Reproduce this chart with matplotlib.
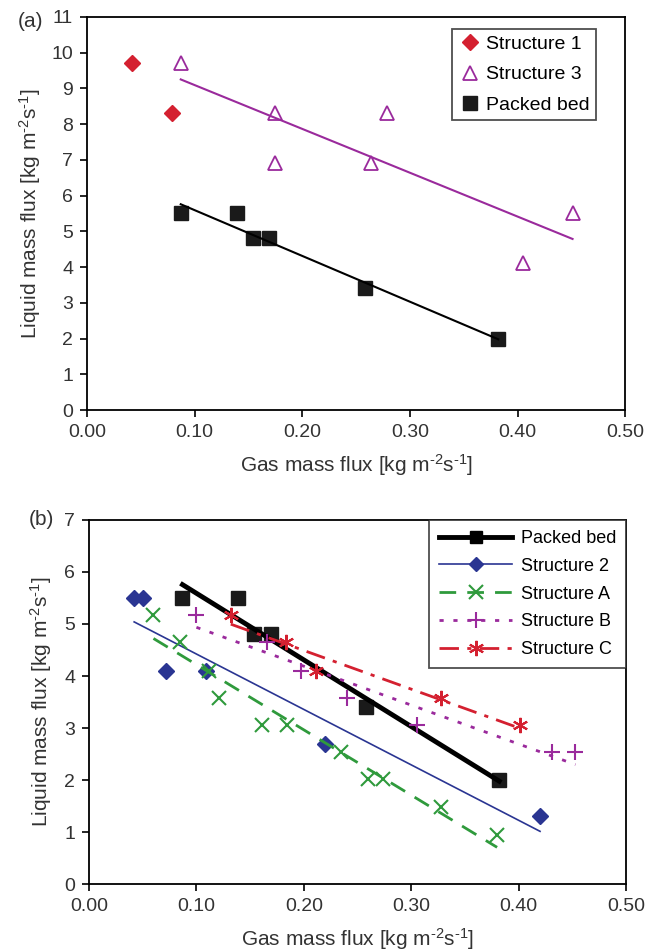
import numpy as np
import matplotlib.pyplot as plt

plt.rcParams['font.family'] = ['Liberation Sans', 'DejaVu Sans']
plt.rcParams['mathtext.fontset'] = 'custom'
plt.rcParams['mathtext.rm'] = 'Liberation Sans'
plt.rcParams['mathtext.default'] = 'regular'

# panel (a)
s1_x = [0.042, 0.079]
s1_y = [9.7, 8.3]
s3_x = [0.087, 0.175, 0.175, 0.264, 0.279, 0.405, 0.451]
s3_y = [9.7, 8.3, 6.9, 6.9, 8.3, 4.1, 5.5]
pb_x = [0.087, 0.139, 0.154, 0.169, 0.258, 0.382]
pb_y = [5.5, 5.5, 4.8, 4.8, 3.4, 2.0]

# panel (b)
s2_x = [0.042, 0.050, 0.072, 0.109, 0.220, 0.420]
s2_y = [5.5, 5.5, 4.1, 4.1, 2.7, 1.3]
sA_x = [0.060, 0.085, 0.112, 0.121, 0.161, 0.184, 0.235, 0.260, 0.274, 0.328, 0.380]
sA_y = [5.17, 4.66, 4.1, 3.58, 3.05, 3.05, 2.54, 2.01, 2.01, 1.49, 0.95]
sB_x = [0.100, 0.166, 0.197, 0.240, 0.305, 0.431, 0.453]
sB_y = [5.17, 4.66, 4.1, 3.58, 3.05, 2.54, 2.54]
sC_x = [0.132, 0.183, 0.211, 0.328, 0.401]
sC_y = [5.17, 4.66, 4.1, 3.58, 3.05]

xticks = [0.0, 0.1, 0.2, 0.3, 0.4, 0.5]
xlab = r'Gas mass flux [kg m$^{\text{-}2}$s$^{\text{-}1}$]'
ylab = r'Liquid mass flux [kg m$^{\text{-}2}$s$^{\text{-}1}$]'

RED = '#d42030'
PURPLE = '#9a2a9c'
BLUE = '#2a3592'
GREEN = '#2f9a3c'
TXT = '#333333'
AST = (6, 2, 0)  # six-arm asterisk


def fit(x, y):
    k, b = np.polyfit(x, y, 1)
    xx = np.array([min(x), max(x)])
    return xx, k * xx + b


def style(ax, ymax, ylpad):
    ax.set_xlim(0, 0.5)
    ax.set_ylim(0, ymax)
    ax.set_xticks(xticks)
    ax.set_xticklabels([f'{v:.2f}' for v in xticks])
    ax.set_yticks(range(0, ymax + 1))
    ax.tick_params(direction='out', length=5, width=1.2, labelsize=14, pad=5,
                   labelcolor=TXT)
    for sp in ax.spines.values():
        sp.set_linewidth(1.3)
    ax.set_xlabel(xlab, fontsize=15, color=TXT, labelpad=8)
    ax.set_ylabel(ylab, fontsize=15, color=TXT, labelpad=ylpad)


fig = plt.figure(figsize=(6.5, 9.52), dpi=100)

ax1 = fig.add_axes([0.134, 0.5693, 0.828, 0.413])
ax1.plot(s1_x, s1_y, 'D', color=RED, ms=8, ls='none', label='Structure 1')
ax1.plot(s3_x, s3_y, '^', mfc='white', mec=PURPLE, mew=1.3, ms=10, ls='none', label='Structure 3')
ax1.plot(pb_x, pb_y, 's', color='#1a1a1a', ms=9.5, ls='none', label='Packed bed')
xx, yy = fit(s3_x, s3_y)
ax1.plot(xx, yy, color=PURPLE, lw=1.5)
xx, yy = fit(pb_x, pb_y)
ax1.plot(xx, yy, color='black', lw=1.5)
style(ax1, 11, 6)
leg = ax1.legend(loc='upper right', bbox_to_anchor=(0.946, 0.97), fontsize=14,
                 frameon=True, fancybox=False, edgecolor='#222222', borderaxespad=0,
                 handletextpad=0.2, borderpad=0.35, labelspacing=0.65, handlelength=1.2)
leg.get_frame().set_linewidth(1.3)

ax2 = fig.add_axes([0.137, 0.0714, 0.826, 0.3824])
xx, yy = fit(pb_x, pb_y)
ax2.plot(pb_x, pb_y, 's', color='#1a1a1a', ms=9.5, ls='none')
ax2.plot(xx, yy, color='black', lw=3.5)
xx, yy = fit(s2_x, s2_y)
ax2.plot(s2_x, s2_y, 'D', color=BLUE, ms=8, ls='none')
ax2.plot(xx, yy, color=BLUE, lw=1.2)
xx, yy = fit(sA_x, sA_y)
ax2.plot(sA_x, sA_y, 'x', color=GREEN, ms=9.5, mew=1.5, ls='none')
ax2.plot(xx, yy, color=GREEN, lw=2, dashes=(6, 4))
xx, yy = fit(sB_x, sB_y)
ax2.plot(sB_x, sB_y, '+', color=PURPLE, ms=11, mew=1.5, ls='none')
ax2.plot(xx, yy, color=PURPLE, lw=2, dashes=(1.5, 3.5))
xx, yy = fit(sC_x, sC_y)
ax2.plot(sC_x, sC_y, marker=AST, color=RED, ms=11, mew=1.5, ls='none')
ax2.plot(xx, yy, color=RED, lw=2, dashes=(7, 3, 1.5, 3))

# legend proxies (marker + line)
h = [
    ax2.plot([], [], 's-', color='black', lw=3.5, ms=9)[0],
    ax2.plot([], [], 'D-', color=BLUE, lw=1.2, ms=7)[0],
    ax2.plot([], [], 'x', ls=(0, (6, 4)), color=GREEN, lw=2, ms=10, mew=1.5)[0],
    ax2.plot([], [], '+', ls=(0, (1.5, 3.5)), color=PURPLE, lw=2, ms=11, mew=1.5)[0],
    ax2.plot([], [], marker=AST, ls=(0, (7, 3, 1.5, 3)), color=RED, lw=2, ms=11, mew=1.5)[0],
]
style(ax2, 7, 7)
leg2 = ax2.legend(h, ['Packed bed', 'Structure 2', 'Structure A', 'Structure B', 'Structure C'],
                  loc='upper right', bbox_to_anchor=(1.0, 1.0), fontsize=13,
                  frameon=True, fancybox=False, edgecolor='#222222', borderaxespad=0,
                  handlelength=4.0, handletextpad=0.5, borderpad=0.55, labelspacing=0.6)
leg2.get_frame().set_linewidth(1.3)

fig.text(0.027, 0.977, '(a)', fontsize=15, color=TXT, va='center')
fig.text(0.044, 0.454, '(b)', fontsize=15, color=TXT, va='center')

fig.savefig('out.png', dpi=100)
